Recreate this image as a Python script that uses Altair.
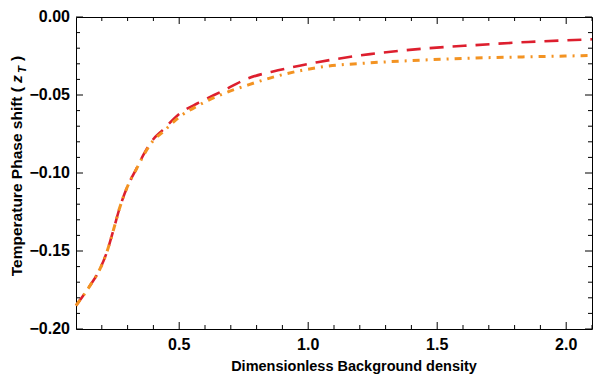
import altair as alt
import pandas as pd

# Data
red_x = [0.10, 0.155, 0.193, 0.219, 0.245, 0.27, 0.302, 0.334, 0.366, 0.398, 0.436,
         0.50, 0.576, 0.666, 0.768, 0.883, 1.036, 1.24, 1.444, 1.649, 1.853, 2.10]
red_y = [-0.185, -0.172, -0.1615, -0.151, -0.1366, -0.122, -0.1077, -0.0973, -0.087,
         -0.0787, -0.0725, -0.0621, -0.0549, -0.0476, -0.0393, -0.0342, -0.029,
         -0.0238, -0.0203, -0.018, -0.016, -0.0143]

orange_x = [0.10, 0.155, 0.193, 0.219, 0.245, 0.27, 0.302, 0.334, 0.366, 0.398, 0.436,
            0.50, 0.576, 0.666, 0.768, 0.883, 1.049, 1.24, 1.444, 1.649, 1.853, 2.10]
orange_y = [-0.185, -0.172, -0.1615, -0.151, -0.1366, -0.122, -0.1077, -0.0975, -0.0875,
            -0.0795, -0.0738, -0.0642, -0.0565, -0.0495, -0.0435, -0.0377, -0.0321,
            -0.0294, -0.0276, -0.0263, -0.0255, -0.0247]

x_major = [0.5, 1.0, 1.5, 2.0]
x_labels = ["0.5", "1.0", "1.5", "2.0"]
x_minor = [0.2, 0.3, 0.4, 0.6, 0.7, 0.8, 0.9, 1.1, 1.2, 1.3, 1.4, 1.6, 1.7, 1.8, 1.9, 2.1]
y_major = [0.0, -0.05, -0.10, -0.15, -0.20]
y_labels = ["0.00", "\u22120.05", "\u22120.10", "\u22120.15", "\u22120.20"]
y_minor = [-0.01, -0.02, -0.03, -0.04, -0.06, -0.07, -0.08, -0.09, -0.11, -0.12,
           -0.13, -0.14, -0.16, -0.17, -0.18, -0.19]

W, H = 516, 312
FONT = "Liberation Sans"
RED = "#DD1F2E"
ORANGE = "#F39322"

red_df = pd.DataFrame({"x": red_x, "y": red_y})
orange_df = pd.DataFrame({"x": orange_x, "y": orange_y})

xs = alt.Scale(domain=[0.1, 2.1], nice=False, zero=False)
ys = alt.Scale(domain=[-0.2, 0.0], nice=False, zero=False)

red = alt.Chart(red_df).mark_line(color=RED, strokeWidth=2.6, strokeDash=[14, 9],
                                  interpolate="monotone").encode(
    x=alt.X("x:Q", scale=xs, axis=None),
    y=alt.Y("y:Q", scale=ys, axis=None),
)
orange = alt.Chart(orange_df).mark_line(color=ORANGE, strokeWidth=3, strokeDash=[7, 6, 2, 6],
                                        interpolate="monotone").encode(
    x=alt.X("x:Q", scale=xs, axis=None),
    y=alt.Y("y:Q", scale=ys, axis=None),
)

def xticks(vals, length):
    df = pd.DataFrame({"t": vals})
    b = alt.Chart(df).mark_rule(color="black", strokeWidth=1).encode(
        x=alt.X("t:Q", scale=xs, axis=None), y=alt.value(H), y2=alt.value(H - length))
    t = alt.Chart(df).mark_rule(color="black", strokeWidth=1).encode(
        x=alt.X("t:Q", scale=xs, axis=None), y=alt.value(0), y2=alt.value(length))
    return [b, t]

def yticks(vals, length):
    df = pd.DataFrame({"t": vals})
    l = alt.Chart(df).mark_rule(color="black", strokeWidth=1).encode(
        y=alt.Y("t:Q", scale=ys, axis=None), x=alt.value(0), x2=alt.value(length))
    r = alt.Chart(df).mark_rule(color="black", strokeWidth=1).encode(
        y=alt.Y("t:Q", scale=ys, axis=None), x=alt.value(W), x2=alt.value(W - length))
    return [l, r]

ticks = xticks(x_major, 7) + xticks(x_minor, 4) + yticks(y_major, 7) + yticks(y_minor, 4)

# tick labels
xlab = alt.Chart(pd.DataFrame({"t": x_major, "s": x_labels})).mark_text(
    font=FONT, fontSize=16, fontWeight="bold", color="black", align="center", baseline="top"
).encode(x=alt.X("t:Q", scale=xs, axis=None), y=alt.value(H + 8), text="s:N")
ylab = alt.Chart(pd.DataFrame({"t": y_major, "s": y_labels})).mark_text(
    font=FONT, fontSize=16, fontWeight="bold", color="black", align="right", baseline="middle"
).encode(y=alt.Y("t:Q", scale=ys, axis=None), x=alt.value(-6), text="s:N")

def tpart(text, x, y, size, style, align, angle, baseline="alphabetic"):
    df = pd.DataFrame({"s": [text]})
    return alt.Chart(df).mark_text(angle=angle, align=align, baseline=baseline, font=FONT,
                                   fontSize=size, fontWeight="bold", fontStyle=style,
                                   color="black").encode(
        text="s:N", x=alt.value(x), y=alt.value(y))

title_layers = [
    tpart("Dimensionless Background density", 278, H + 31, 14.5, "normal", "center", 0, "top"),
    tpart("Temperature Phase shift (", -54, 70, 15.5, "normal", "right", 270),
    tpart("z", -54, 66, 15.5, "italic", "left", 270),
    tpart("T", -50, 56, 11.5, "italic", "left", 270),
    tpart(")", -54, 44, 15.5, "normal", "left", 270),
]

chart = alt.layer(red, orange, *ticks, xlab, ylab, *title_layers).properties(
    width=W, height=H,
    autosize="none",
    padding={"left": 68, "top": 9, "right": 1, "bottom": 47},
    background="white",
).configure_view(stroke="black", strokeWidth=1)

chart.save("out.html", embed_options={"renderer": "svg", "actions": False})
